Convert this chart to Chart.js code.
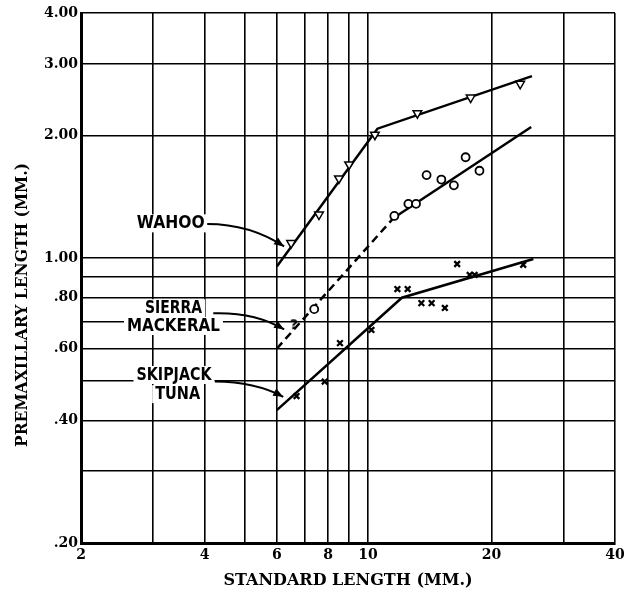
<!DOCTYPE html>
<html>
<head>
<meta charset="utf-8">
<script src="https://cdn.jsdelivr.net/npm/chart.js@4.4.0/dist/chart.umd.min.js"></script>
<style>
  html, body { margin: 0; padding: 0; background: #fff; }
</style>
</head>
<body>
<canvas id="premaxChart" width="638" height="596"></canvas>
<script>
// tick labels
const xTickValues = [2, 4, 6, 8, 10, 20, 40];
const yTickValues = [0.2, 0.4, 0.6, 0.8, 1, 2, 3, 4];
const yTickLabels = ['.20', '.40', '.60', '.80', '1.00', '2.00', '3.00', '4.00'];

// wahoo (triangles)
const wahooLength = [6.5, 7.6, 8.5, 9.0, 10.4, 13.2, 17.8, 23.5];
const wahooPremax = [1.09, 1.28, 1.57, 1.70, 2.01, 2.27, 2.48, 2.68];
const wahooFitLength = [6.0, 10.55, 25.1];
const wahooFitPremax = [0.955, 2.08, 2.80];

// sierra mackerel (circles, one doubtful "?")
const sierraLength = [7.4, 11.6, 12.55, 13.1, 13.9, 15.1, 16.2, 17.3, 18.7];
const sierraPremax = [0.75, 1.27, 1.36, 1.36, 1.60, 1.56, 1.51, 1.77, 1.64];
const sierraDoubtLength = [6.6];
const sierraDoubtPremax = [0.685];
const sierraFitLength = [6.0, 11.55, 25.0];
const sierraFitPremax = [0.60, 1.256, 2.10];

// skipjack tuna (x)
const skipjackLength = [6.7, 7.85, 8.55, 10.2, 11.8, 12.5, 13.5, 14.3, 15.4, 16.5, 17.7, 18.2, 23.9];
const skipjackPremax = [0.459, 0.498, 0.619, 0.667, 0.84, 0.84, 0.776, 0.776, 0.755, 0.968, 0.91, 0.91, 0.964];
const skipjackFitLength = [6.0, 12.1, 25.3];
const skipjackFitPremax = [0.424, 0.80, 0.996];

function toPoints(xs, ys) {
    return xs.map((x, i) => ({ x: x, y: ys[i] }));
}

function near(a, b) {
    return Math.abs(a - b) < 1e-6 * Math.max(1, b);
}

// keep only 1..9 x 10^n grid lines (chart.js adds 1.5, 15 ...)
function wholeTicks(scale) {
    scale.ticks = scale.ticks.filter(t => {
        const m = t.value / Math.pow(10, Math.floor(Math.log10(t.value) + 1e-9));
        return Math.abs(m - Math.round(m)) < 1e-6;
    });
}

// "?" marker used as point style
function questionMark() {
    const c = document.createElement('canvas');
    c.width = 12;
    c.height = 16;
    const g = c.getContext('2d');
    g.font = 'bold 14px "DejaVu Sans", sans-serif';
    g.textAlign = 'center';
    g.textBaseline = 'middle';
    g.fillStyle = '#000';
    g.fillText('?', 6, 8);
    return c;
}

// species labels and arrows, in data units
const notes = [
    { lines: [['WAHOO', 3.31, 1.218, 68]],
      arrow: [[4.06, 1.214], [5.16, 1.214], [6.25, 1.069]] },
    { lines: [['SIERRA', 3.36, 0.754, 57], ['MACKERAL', 3.36, 0.682, 93]],
      arrow: [[4.20, 0.733], [5.31, 0.738], [6.25, 0.669]] },
    { lines: [['SKIPJACK', 3.37, 0.517, 75], ['TUNA', 3.44, 0.464, 45]],
      arrow: [[4.24, 0.498], [5.31, 0.497], [6.22, 0.457]] }
];

const notesPlugin = {
    id: 'notes',
    afterDraw(chart) {
        const { ctx, scales } = chart;
        const { x, y } = scales;
        ctx.save();
        ctx.font = 'bold 18px "DejaVu Sans", sans-serif';
        ctx.textBaseline = 'middle';
        ctx.textAlign = 'center';
        // white boxes behind the text
        notes.forEach(n => n.lines.forEach(([t, lx, ly, w]) => {
            const px = x.getPixelForValue(lx);
            const py = y.getPixelForValue(ly);
            ctx.fillStyle = '#fff';
            ctx.fillRect(px - w / 2 - 3, py - 9, w + 6, 18);
        }));
        notes.forEach(n => {
            const p = n.arrow.map(([ax, ay]) => [x.getPixelForValue(ax), y.getPixelForValue(ay)]);
            ctx.strokeStyle = '#000';
            ctx.lineWidth = 2;
            ctx.beginPath();
            ctx.moveTo(p[0][0], p[0][1]);
            ctx.quadraticCurveTo(p[1][0], p[1][1], p[2][0], p[2][1]);
            ctx.stroke();
            const ang = Math.atan2(p[2][1] - p[1][1], p[2][0] - p[1][0]);
            ctx.fillStyle = '#000';
            ctx.beginPath();
            ctx.moveTo(p[2][0], p[2][1]);
            ctx.lineTo(p[2][0] - 10 * Math.cos(ang) + 4 * Math.sin(ang), p[2][1] - 10 * Math.sin(ang) - 4 * Math.cos(ang));
            ctx.lineTo(p[2][0] - 10 * Math.cos(ang) - 4 * Math.sin(ang), p[2][1] - 10 * Math.sin(ang) + 4 * Math.cos(ang));
            ctx.closePath();
            ctx.fill();
            n.lines.forEach(([t, lx, ly, w]) => {
                const px = x.getPixelForValue(lx);
                const py = y.getPixelForValue(ly);
                const m = ctx.measureText(t).width;
                ctx.save();
                ctx.translate(px, py);
                ctx.scale(w / m, 1);
                ctx.fillText(t, 0, 0);
                ctx.restore();
            });
        });
        // y axis title
        ctx.translate(23, 305);
        ctx.rotate(-Math.PI / 2);
        ctx.font = 'bold 16px "DejaVu Serif", serif';
        ctx.fillStyle = '#000';
        ctx.fillText('PREMAXILLARY LENGTH (MM.)', 0, 0, 284);
        ctx.restore();
    }
};

const tickFont = { family: '"DejaVu Serif", serif', size: 14, weight: 'bold' };

const premaxConfig = {
    type: 'scatter',
    data: {
        datasets: [{
            data: toPoints(wahooLength, wahooPremax),
            pointStyle: 'triangle',
            rotation: 180,
            pointRadius: 5,
            borderColor: '#000',
            backgroundColor: '#fff',
            borderWidth: 1.5,
            order: 1
        }, {
            data: toPoints(sierraLength, sierraPremax),
            pointStyle: 'circle',
            pointRadius: 4,
            borderColor: '#000',
            backgroundColor: '#fff',
            borderWidth: 1.8,
            order: 1
        }, {
            data: toPoints(sierraDoubtLength, sierraDoubtPremax),
            pointStyle: questionMark(),
            pointRadius: 5,
            order: 0
        }, {
            data: toPoints(skipjackLength, skipjackPremax),
            pointStyle: 'crossRot',
            pointRadius: 4,
            borderColor: '#000',
            borderWidth: 2.3,
            order: 1
        }, {
            data: toPoints(wahooFitLength, wahooFitPremax),
            showLine: true,
            pointRadius: 0,
            borderColor: '#000',
            borderWidth: 2.5,
            order: 2
        }, {
            data: toPoints(sierraFitLength, sierraFitPremax),
            showLine: true,
            pointRadius: 0,
            borderColor: '#000',
            borderWidth: 2.5,
            segment: {
                borderDash: (ctx) => ctx.p0DataIndex === 0 ? [8, 5] : undefined
            },
            order: 2
        }, {
            data: toPoints(skipjackFitLength, skipjackFitPremax),
            showLine: true,
            pointRadius: 0,
            borderColor: '#000',
            borderWidth: 2.5,
            order: 2
        }]
    },
    options: {
        responsive: false,
        animation: false,
        layout: { padding: { top: 13, right: 23, left: 0, bottom: 0 } },
        plugins: {
            legend: { display: false },
            tooltip: { enabled: false }
        },
        scales: {
            x: {
                type: 'logarithmic',
                min: 2,
                max: 40,
                afterFit: (s) => { s.height = 53; },
                afterBuildTicks: wholeTicks,
                grid: { color: '#000', lineWidth: 1.6, drawTicks: false },
                border: { color: '#000', width: 3 },
                ticks: {
                    autoSkip: false,
                    maxRotation: 0,
                    padding: 4,
                    color: '#000',
                    font: tickFont,
                    callback: (v) => xTickValues.some(t => near(v, t)) ? String(v) : ''
                },
                title: {
                    display: true,
                    text: 'STANDARD LENGTH (MM.)',
                    color: '#000',
                    font: { family: '"DejaVu Serif", serif', size: 16, weight: 'bold' },
                    padding: { top: 0, bottom: 6 }
                }
            },
            y: {
                type: 'logarithmic',
                min: 0.2,
                max: 4,
                afterFit: (s) => { s.width = 81; },
                afterBuildTicks: wholeTicks,
                grid: { color: '#000', lineWidth: 1.6, drawTicks: false },
                border: { color: '#000', width: 3 },
                ticks: {
                    autoSkip: false,
                    padding: 3,
                    color: '#000',
                    font: tickFont,
                    callback: (v) => {
                        const i = yTickValues.findIndex(t => near(v, t));
                        return i >= 0 ? yTickLabels[i] : '';
                    }
                }
            }
        }
    },
    plugins: [notesPlugin]
};

const premaxChart = new Chart(
    document.getElementById('premaxChart'),
    premaxConfig
);
</script>
</body>
</html>
